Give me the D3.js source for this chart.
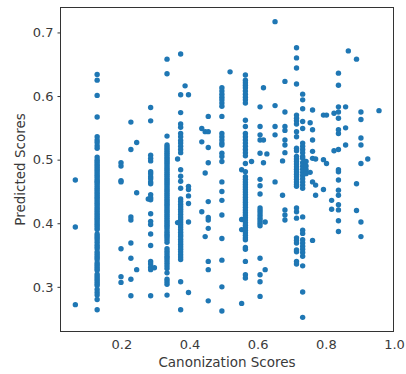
<!DOCTYPE html>
<html>
<head>
<meta charset="utf-8">
<script src="https://cdn.jsdelivr.net/npm/d3@7"></script>
<style>
  html, body { margin: 0; padding: 0; background: #fff; }
  svg { display: block; font-family: "DejaVu Sans", sans-serif; }
</style>
</head>
<body>
<svg id="chart" width="406" height="374"></svg>
<script>
// Canonization score of each vertical column of points
const canonScores = [
  0.065, 0.129, 0.199, 0.228, 0.245, 0.279, 0.286, 0.297, 0.334, 0.365,
  0.374, 0.387, 0.397, 0.436, 0.446, 0.455, 0.495, 0.519, 0.553, 0.564,
  0.582, 0.607, 0.617, 0.622, 0.627, 0.651, 0.673, 0.680, 0.714, 0.732,
  0.742, 0.754, 0.761, 0.770, 0.793, 0.802, 0.817, 0.824, 0.837, 0.858,
  0.866, 0.890, 0.903, 0.923, 0.956
];
// Predicted scores for each column (same order as canonScores)
const predictedScores = [
  [0.468, 0.394, 0.272],
  [0.634, 0.625, 0.601, 0.567, 0.536, 0.531, 0.527, 0.522, 0.518, 0.504, 0.500, 0.497, 0.494, 0.491, 0.488, 0.485, 0.482, 0.479, 0.476, 0.473, 0.470, 0.467, 0.465, 0.462, 0.459, 0.456, 0.453, 0.450, 0.447, 0.444, 0.441, 0.438, 0.435, 0.432, 0.429, 0.426, 0.423, 0.420, 0.417, 0.414, 0.411, 0.408, 0.405, 0.402, 0.399, 0.396, 0.393, 0.390, 0.383, 0.380, 0.377, 0.374, 0.370, 0.366, 0.363, 0.360, 0.355, 0.352, 0.349, 0.346, 0.343, 0.338, 0.335, 0.332, 0.329, 0.326, 0.320, 0.317, 0.314, 0.311, 0.308, 0.305, 0.302, 0.296, 0.291, 0.287, 0.280, 0.264],
  [0.495, 0.490, 0.467, 0.465, 0.360, 0.316, 0.307],
  [0.559, 0.516, 0.410, 0.405, 0.369, 0.345, 0.312, 0.286],
  [0.527, 0.448, 0.327],
  [0.438],
  [0.582, 0.561, 0.507, 0.502, 0.498, 0.481, 0.478, 0.473, 0.470, 0.465, 0.462, 0.445, 0.440, 0.437, 0.415, 0.403, 0.398, 0.383, 0.365, 0.340, 0.336, 0.331, 0.327, 0.286],
  [0.330],
  [0.658, 0.635, 0.537, 0.523, 0.520, 0.517, 0.514, 0.511, 0.508, 0.505, 0.502, 0.499, 0.496, 0.493, 0.490, 0.487, 0.484, 0.481, 0.478, 0.475, 0.472, 0.469, 0.466, 0.463, 0.460, 0.457, 0.454, 0.451, 0.448, 0.445, 0.442, 0.439, 0.436, 0.433, 0.430, 0.427, 0.424, 0.421, 0.418, 0.415, 0.412, 0.409, 0.406, 0.403, 0.400, 0.397, 0.394, 0.391, 0.387, 0.384, 0.381, 0.378, 0.374, 0.370, 0.360, 0.356, 0.352, 0.348, 0.345, 0.341, 0.337, 0.333, 0.329, 0.322, 0.312, 0.308, 0.304, 0.287],
  [0.501, 0.401],
  [0.666, 0.602, 0.574, 0.556, 0.551, 0.541, 0.536, 0.530, 0.526, 0.521, 0.516, 0.511, 0.484, 0.474, 0.466, 0.455, 0.438, 0.434, 0.430, 0.426, 0.422, 0.418, 0.414, 0.410, 0.406, 0.402, 0.398, 0.394, 0.390, 0.386, 0.382, 0.379, 0.375, 0.371, 0.367, 0.363, 0.359, 0.355, 0.351, 0.347, 0.343, 0.308, 0.264],
  [0.616],
  [0.602, 0.458, 0.453, 0.443, 0.431, 0.402, 0.291],
  [0.549, 0.528, 0.418],
  [0.544, 0.479, 0.379],
  [0.568, 0.544, 0.519, 0.495, 0.434, 0.409, 0.405, 0.392, 0.340, 0.327, 0.278],
  [0.613, 0.608, 0.603, 0.598, 0.594, 0.589, 0.584, 0.568, 0.541, 0.536, 0.531, 0.526, 0.523, 0.510, 0.505, 0.497, 0.465, 0.450, 0.436, 0.413, 0.376, 0.342, 0.300, 0.262],
  [0.638],
  [0.484, 0.406, 0.390, 0.274],
  [0.633, 0.625, 0.621, 0.617, 0.613, 0.608, 0.603, 0.598, 0.594, 0.589, 0.562, 0.552, 0.541, 0.536, 0.531, 0.526, 0.521, 0.516, 0.511, 0.506, 0.494, 0.481, 0.473, 0.469, 0.465, 0.461, 0.457, 0.453, 0.449, 0.445, 0.441, 0.437, 0.433, 0.429, 0.425, 0.421, 0.417, 0.413, 0.409, 0.405, 0.401, 0.397, 0.393, 0.389, 0.385, 0.381, 0.377, 0.374, 0.362, 0.359, 0.340, 0.319, 0.314],
  [0.497],
  [0.583, 0.552, 0.539, 0.531, 0.510, 0.469, 0.459, 0.446, 0.424, 0.420, 0.416, 0.412, 0.408, 0.404, 0.400, 0.396, 0.345, 0.319, 0.308, 0.285],
  [0.613, 0.531, 0.495],
  [0.402, 0.327],
  [0.509],
  [0.717, 0.585, 0.552, 0.539, 0.465],
  [0.498, 0.444],
  [0.623, 0.575, 0.552, 0.546, 0.531, 0.523, 0.511, 0.421, 0.413, 0.405],
  [0.676, 0.660, 0.644, 0.619, 0.570, 0.565, 0.561, 0.556, 0.544, 0.536, 0.518, 0.514, 0.505, 0.501, 0.497, 0.493, 0.489, 0.485, 0.481, 0.477, 0.473, 0.469, 0.465, 0.461, 0.458, 0.424, 0.418, 0.408, 0.377, 0.373, 0.369, 0.358, 0.355, 0.340, 0.336],
  [0.603, 0.594, 0.580, 0.560, 0.549, 0.526, 0.521, 0.516, 0.511, 0.505, 0.502, 0.495, 0.490, 0.485, 0.480, 0.475, 0.470, 0.465, 0.460, 0.455, 0.410, 0.389, 0.384, 0.374, 0.369, 0.364, 0.359, 0.354, 0.348, 0.333, 0.292, 0.252],
  [0.497, 0.490, 0.484, 0.478],
  [0.558, 0.480],
  [0.578, 0.547, 0.531, 0.513, 0.502, 0.465, 0.373],
  [0.501, 0.460, 0.444],
  [0.570, 0.500, 0.453],
  [0.570, 0.494],
  [0.436, 0.422],
  [0.573, 0.514],
  [0.636, 0.617, 0.583, 0.575, 0.565, 0.547, 0.541, 0.516, 0.484, 0.481, 0.468, 0.452, 0.444, 0.429, 0.421, 0.404, 0.387],
  [0.583, 0.550, 0.523],
  [0.671],
  [0.658, 0.462, 0.420],
  [0.575, 0.563, 0.534, 0.523, 0.494, 0.402, 0.379],
  [0.501],
  [0.577]
];
const xTicks = [0.2, 0.4, 0.6, 0.8, 1.0];
const yTicks = [0.3, 0.4, 0.5, 0.6, 0.7];
const xLabel = "Canonization Scores";
const yLabel = "Predicted Scores";

const points = [];
canonScores.forEach((c, i) => predictedScores[i].forEach(p => points.push({x: c, y: p})));

const mLeft = 60, mRight = 394, mTop = 7, mBottom = 332;
const svg = d3.select("#chart");
const x = d3.scaleLinear().domain([0.020, 1.000]).range([mLeft, mRight]);
const y = d3.scaleLinear().domain([0.229, 0.740]).range([mBottom, mTop]);

const textColor = "#3a3a3a";
const axisColor = "#333";

// points
svg.append("g")
  .selectAll("circle")
  .data(points)
  .join("circle")
  .attr("cx", d => x(d.x))
  .attr("cy", d => y(d.y))
  .attr("r", 2.7)
  .attr("fill", "#1f77b4");

// frame
svg.append("rect")
  .attr("x", mLeft + 0.5).attr("y", mTop + 0.5)
  .attr("width", mRight - mLeft - 1).attr("height", mBottom - mTop - 1)
  .attr("fill", "none").attr("stroke", axisColor).attr("stroke-width", 1);

// axes
const xAxis = svg.append("g")
  .attr("transform", `translate(0,${mBottom - 0.5})`)
  .call(d3.axisBottom(x).tickValues(xTicks).tickFormat(d3.format(".1f")).tickSize(0).tickPadding(8));
const yAxis = svg.append("g")
  .attr("transform", `translate(${mLeft + 0.5},0)`)
  .call(d3.axisLeft(y).tickValues(yTicks).tickFormat(d3.format(".1f")).tickSize(3).tickPadding(4));
[xAxis, yAxis].forEach(g => {
  g.select(".domain").remove();
  g.selectAll(".tick line").attr("stroke", axisColor);
  g.selectAll(".tick text")
    .attr("fill", textColor)
    .style("font-family", "'DejaVu Sans', sans-serif")
    .style("font-size", "13px");
});

// axis labels
svg.append("text")
  .attr("x", (mLeft + mRight) / 2)
  .attr("y", 367)
  .attr("text-anchor", "middle")
  .attr("fill", textColor)
  .style("font-size", "13.5px")
  .text(xLabel);
svg.append("text")
  .attr("transform", `translate(25,${(mTop + mBottom) / 2}) rotate(-90)`)
  .attr("text-anchor", "middle")
  .attr("fill", textColor)
  .style("font-size", "13.5px")
  .text(yLabel);
</script>
</body>
</html>
